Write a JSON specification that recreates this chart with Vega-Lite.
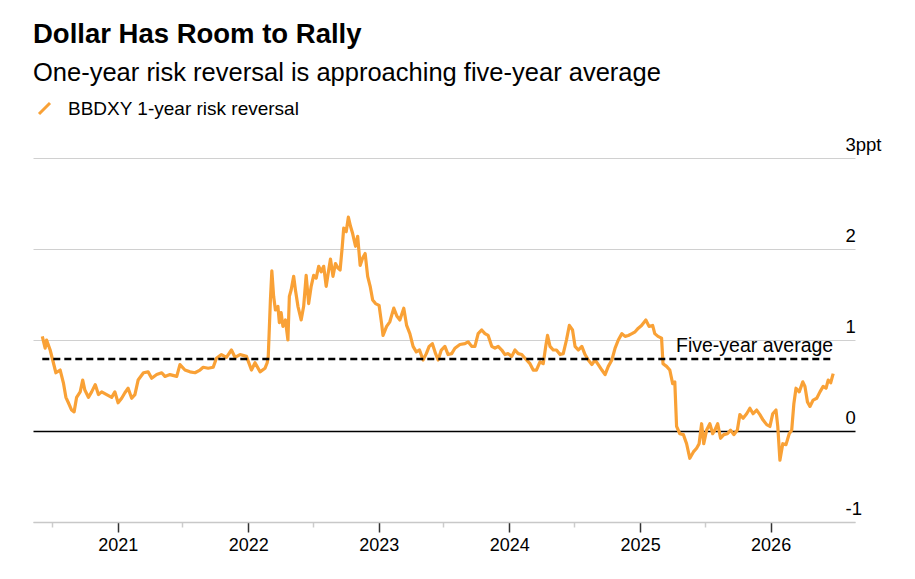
{
  "$schema": "https://vega.github.io/schema/vega-lite/v6.json",
  "width": 822,
  "height": 364,
  "autosize": {"type": "none"},
  "padding": {"left": 33, "top": 158, "right": 60, "bottom": 57},
  "background": "#ffffff",
  "title": {
    "text": "Dollar Has Room to Rally",
    "subtitle": "One-year risk reversal is approaching five-year average",
    "anchor": "start",
    "frame": "group",
    "font": "Liberation Sans",
    "fontSize": 27.5,
    "fontWeight": "bold",
    "color": "#000000",
    "subtitleFont": "Liberation Sans",
    "subtitleFontSize": 25.5,
    "subtitleColor": "#000000",
    "subtitlePadding": 12,
    "offset": 13
  },
  "datasets": {
    "series": [
      {"date": "2020-06-04", "value": 1.04}, {"date": "2020-06-12", "value": 0.91}, {"date": "2020-06-16", "value": 1.0},
      {"date": "2020-06-26", "value": 0.89}, {"date": "2020-07-05", "value": 0.75}, {"date": "2020-07-12", "value": 0.64},
      {"date": "2020-07-24", "value": 0.67}, {"date": "2020-08-02", "value": 0.53}, {"date": "2020-08-09", "value": 0.37},
      {"date": "2020-08-16", "value": 0.31}, {"date": "2020-08-25", "value": 0.23}, {"date": "2020-09-01", "value": 0.21},
      {"date": "2020-09-08", "value": 0.37}, {"date": "2020-09-18", "value": 0.43}, {"date": "2020-09-25", "value": 0.56},
      {"date": "2020-10-01", "value": 0.45}, {"date": "2020-10-11", "value": 0.37}, {"date": "2020-10-20", "value": 0.43},
      {"date": "2020-10-30", "value": 0.51}, {"date": "2020-11-08", "value": 0.4}, {"date": "2020-11-17", "value": 0.43},
      {"date": "2020-12-01", "value": 0.4}, {"date": "2020-12-15", "value": 0.37}, {"date": "2020-12-24", "value": 0.43},
      {"date": "2021-01-02", "value": 0.31}, {"date": "2021-01-12", "value": 0.36}, {"date": "2021-01-21", "value": 0.42},
      {"date": "2021-01-30", "value": 0.47}, {"date": "2021-02-09", "value": 0.36}, {"date": "2021-02-18", "value": 0.4},
      {"date": "2021-02-27", "value": 0.56}, {"date": "2021-03-14", "value": 0.64}, {"date": "2021-03-27", "value": 0.65},
      {"date": "2021-04-06", "value": 0.58}, {"date": "2021-04-20", "value": 0.62}, {"date": "2021-05-04", "value": 0.64},
      {"date": "2021-05-13", "value": 0.6}, {"date": "2021-05-27", "value": 0.62}, {"date": "2021-06-15", "value": 0.6},
      {"date": "2021-06-24", "value": 0.73}, {"date": "2021-07-08", "value": 0.67}, {"date": "2021-07-22", "value": 0.65},
      {"date": "2021-08-05", "value": 0.64}, {"date": "2021-08-19", "value": 0.67}, {"date": "2021-08-28", "value": 0.7},
      {"date": "2021-09-11", "value": 0.69}, {"date": "2021-09-25", "value": 0.7}, {"date": "2021-10-04", "value": 0.8},
      {"date": "2021-10-18", "value": 0.84}, {"date": "2021-11-01", "value": 0.81}, {"date": "2021-11-15", "value": 0.89},
      {"date": "2021-11-25", "value": 0.81}, {"date": "2021-12-09", "value": 0.84}, {"date": "2021-12-27", "value": 0.82},
      {"date": "2022-01-10", "value": 0.67}, {"date": "2022-01-20", "value": 0.75}, {"date": "2022-02-03", "value": 0.65},
      {"date": "2022-02-17", "value": 0.69}, {"date": "2022-02-23", "value": 0.75}, {"date": "2022-02-26", "value": 0.82},
      {"date": "2022-03-04", "value": 1.44}, {"date": "2022-03-08", "value": 1.76}, {"date": "2022-03-13", "value": 1.48},
      {"date": "2022-03-18", "value": 1.33}, {"date": "2022-03-25", "value": 1.37}, {"date": "2022-03-29", "value": 1.19},
      {"date": "2022-04-03", "value": 1.3}, {"date": "2022-04-08", "value": 1.15}, {"date": "2022-04-15", "value": 1.22},
      {"date": "2022-04-22", "value": 1.0}, {"date": "2022-04-26", "value": 1.48}, {"date": "2022-05-01", "value": 1.55},
      {"date": "2022-05-08", "value": 1.7}, {"date": "2022-05-13", "value": 1.55}, {"date": "2022-05-20", "value": 1.37},
      {"date": "2022-05-29", "value": 1.22}, {"date": "2022-06-05", "value": 1.37}, {"date": "2022-06-12", "value": 1.71},
      {"date": "2022-06-19", "value": 1.4}, {"date": "2022-06-26", "value": 1.59}, {"date": "2022-07-03", "value": 1.71},
      {"date": "2022-07-10", "value": 1.68}, {"date": "2022-07-17", "value": 1.81}, {"date": "2022-07-24", "value": 1.75},
      {"date": "2022-07-31", "value": 1.81}, {"date": "2022-08-07", "value": 1.59}, {"date": "2022-08-14", "value": 1.77},
      {"date": "2022-08-19", "value": 1.89}, {"date": "2022-08-26", "value": 1.7}, {"date": "2022-09-02", "value": 1.84},
      {"date": "2022-09-09", "value": 1.79}, {"date": "2022-09-15", "value": 1.77}, {"date": "2022-09-21", "value": 2.03},
      {"date": "2022-09-25", "value": 2.23}, {"date": "2022-10-02", "value": 2.19}, {"date": "2022-10-08", "value": 2.35},
      {"date": "2022-10-14", "value": 2.25}, {"date": "2022-10-20", "value": 2.17}, {"date": "2022-10-28", "value": 2.03},
      {"date": "2022-11-03", "value": 2.14}, {"date": "2022-11-10", "value": 1.82}, {"date": "2022-11-17", "value": 1.9},
      {"date": "2022-11-24", "value": 1.95}, {"date": "2022-12-01", "value": 1.7}, {"date": "2022-12-08", "value": 1.59},
      {"date": "2022-12-15", "value": 1.44}, {"date": "2022-12-23", "value": 1.4}, {"date": "2023-01-02", "value": 1.38},
      {"date": "2023-01-09", "value": 1.18}, {"date": "2023-01-13", "value": 1.05}, {"date": "2023-01-23", "value": 1.15},
      {"date": "2023-02-01", "value": 1.2}, {"date": "2023-02-12", "value": 1.35}, {"date": "2023-02-21", "value": 1.26},
      {"date": "2023-03-01", "value": 1.22}, {"date": "2023-03-12", "value": 1.35}, {"date": "2023-03-20", "value": 1.16},
      {"date": "2023-03-29", "value": 1.07}, {"date": "2023-04-07", "value": 0.93}, {"date": "2023-04-16", "value": 0.87},
      {"date": "2023-04-25", "value": 0.89}, {"date": "2023-05-05", "value": 0.78}, {"date": "2023-05-14", "value": 0.85},
      {"date": "2023-05-22", "value": 0.93}, {"date": "2023-05-31", "value": 0.96}, {"date": "2023-06-09", "value": 0.85},
      {"date": "2023-06-16", "value": 0.78}, {"date": "2023-06-25", "value": 0.89}, {"date": "2023-07-05", "value": 0.93},
      {"date": "2023-07-14", "value": 0.84}, {"date": "2023-07-24", "value": 0.85}, {"date": "2023-08-02", "value": 0.91},
      {"date": "2023-08-16", "value": 0.95}, {"date": "2023-08-30", "value": 0.96}, {"date": "2023-09-08", "value": 0.98},
      {"date": "2023-09-18", "value": 0.93}, {"date": "2023-09-27", "value": 0.93}, {"date": "2023-10-06", "value": 1.07},
      {"date": "2023-10-16", "value": 1.11}, {"date": "2023-10-25", "value": 1.07}, {"date": "2023-11-03", "value": 1.05},
      {"date": "2023-11-13", "value": 0.93}, {"date": "2023-11-22", "value": 0.91}, {"date": "2023-12-01", "value": 0.93},
      {"date": "2023-12-11", "value": 0.89}, {"date": "2023-12-20", "value": 0.84}, {"date": "2023-12-29", "value": 0.85},
      {"date": "2024-01-08", "value": 0.82}, {"date": "2024-01-17", "value": 0.89}, {"date": "2024-01-26", "value": 0.85},
      {"date": "2024-02-05", "value": 0.84}, {"date": "2024-02-14", "value": 0.8}, {"date": "2024-02-28", "value": 0.74},
      {"date": "2024-03-08", "value": 0.67}, {"date": "2024-03-17", "value": 0.67}, {"date": "2024-03-27", "value": 0.76},
      {"date": "2024-04-05", "value": 0.74}, {"date": "2024-04-12", "value": 0.93}, {"date": "2024-04-17", "value": 1.05},
      {"date": "2024-04-24", "value": 0.93}, {"date": "2024-05-03", "value": 0.89}, {"date": "2024-05-12", "value": 0.89},
      {"date": "2024-05-22", "value": 0.84}, {"date": "2024-05-31", "value": 0.85}, {"date": "2024-06-09", "value": 1.0},
      {"date": "2024-06-17", "value": 1.16}, {"date": "2024-06-26", "value": 1.11}, {"date": "2024-07-03", "value": 0.93},
      {"date": "2024-07-12", "value": 0.89}, {"date": "2024-07-22", "value": 0.93}, {"date": "2024-07-31", "value": 0.84},
      {"date": "2024-08-09", "value": 0.78}, {"date": "2024-08-19", "value": 0.73}, {"date": "2024-08-28", "value": 0.78},
      {"date": "2024-09-06", "value": 0.73}, {"date": "2024-09-16", "value": 0.67}, {"date": "2024-09-25", "value": 0.62},
      {"date": "2024-10-04", "value": 0.71}, {"date": "2024-10-14", "value": 0.78}, {"date": "2024-10-23", "value": 0.91},
      {"date": "2024-11-01", "value": 1.0}, {"date": "2024-11-11", "value": 1.07}, {"date": "2024-11-20", "value": 1.04},
      {"date": "2024-11-29", "value": 1.05}, {"date": "2024-12-09", "value": 1.07}, {"date": "2024-12-18", "value": 1.09},
      {"date": "2024-12-27", "value": 1.13}, {"date": "2025-01-05", "value": 1.16}, {"date": "2025-01-17", "value": 1.22},
      {"date": "2025-01-26", "value": 1.15}, {"date": "2025-02-05", "value": 1.16}, {"date": "2025-02-11", "value": 1.07},
      {"date": "2025-02-20", "value": 1.04}, {"date": "2025-03-02", "value": 1.02}, {"date": "2025-03-06", "value": 0.74},
      {"date": "2025-03-16", "value": 0.71}, {"date": "2025-03-25", "value": 0.67}, {"date": "2025-04-02", "value": 0.52},
      {"date": "2025-04-08", "value": 0.54}, {"date": "2025-04-13", "value": 0.05}, {"date": "2025-04-22", "value": -0.03},
      {"date": "2025-05-02", "value": -0.04}, {"date": "2025-05-11", "value": -0.14}, {"date": "2025-05-20", "value": -0.3},
      {"date": "2025-05-30", "value": -0.23}, {"date": "2025-06-08", "value": -0.19}, {"date": "2025-06-15", "value": -0.14},
      {"date": "2025-06-22", "value": 0.08}, {"date": "2025-06-28", "value": -0.14}, {"date": "2025-07-06", "value": 0.01},
      {"date": "2025-07-15", "value": 0.08}, {"date": "2025-07-23", "value": -0.03}, {"date": "2025-07-29", "value": 0.01},
      {"date": "2025-08-06", "value": 0.08}, {"date": "2025-08-14", "value": -0.08}, {"date": "2025-08-23", "value": -0.04},
      {"date": "2025-09-02", "value": -0.03}, {"date": "2025-09-11", "value": 0.01}, {"date": "2025-09-20", "value": -0.04},
      {"date": "2025-09-30", "value": 0.01}, {"date": "2025-10-07", "value": 0.18}, {"date": "2025-10-16", "value": 0.14},
      {"date": "2025-10-26", "value": 0.19}, {"date": "2025-11-04", "value": 0.25}, {"date": "2025-11-13", "value": 0.19},
      {"date": "2025-11-23", "value": 0.23}, {"date": "2025-12-02", "value": 0.18}, {"date": "2025-12-11", "value": 0.12},
      {"date": "2025-12-21", "value": 0.07}, {"date": "2025-12-30", "value": 0.05}, {"date": "2026-01-07", "value": 0.19},
      {"date": "2026-01-16", "value": 0.23}, {"date": "2026-01-21", "value": 0.05}, {"date": "2026-01-27", "value": -0.32},
      {"date": "2026-02-04", "value": -0.14}, {"date": "2026-02-13", "value": -0.15}, {"date": "2026-02-22", "value": -0.03},
      {"date": "2026-03-01", "value": 0.01}, {"date": "2026-03-07", "value": 0.3}, {"date": "2026-03-13", "value": 0.47},
      {"date": "2026-03-22", "value": 0.43}, {"date": "2026-04-01", "value": 0.54}, {"date": "2026-04-07", "value": 0.49},
      {"date": "2026-04-14", "value": 0.32}, {"date": "2026-04-21", "value": 0.27}, {"date": "2026-04-30", "value": 0.34},
      {"date": "2026-05-10", "value": 0.36}, {"date": "2026-05-19", "value": 0.43}, {"date": "2026-05-28", "value": 0.49},
      {"date": "2026-06-05", "value": 0.47}, {"date": "2026-06-11", "value": 0.56}, {"date": "2026-06-18", "value": 0.53},
      {"date": "2026-06-25", "value": 0.63}
    ],
    "average": [
      {"start": "2020-06-04", "end": "2026-06-25", "value": 0.79, "label": "Five-year average"}
    ]
  },
  "layer": [
    {
      "data": {"name": "series"},
      "mark": {"type": "line", "strokeWidth": 3.2, "strokeJoin": "round"},
      "encoding": {
        "x": {
          "field": "date",
          "type": "temporal",
          "scale": {
            "type": "utc",
            "domain": [
              {"year": 2020, "month": 5, "date": 9, "utc": true},
              {"year": 2026, "month": 8, "date": 25, "utc": true}
            ]
          },
          "axis": {
            "title": null,
            "grid": false,
            "values": [
              {"year": 2020, "month": 7, "date": 1, "utc": true},
              {"year": 2020, "month": 10, "date": 1, "utc": true},
              {"year": 2021, "month": 1, "date": 1, "utc": true},
              {"year": 2021, "month": 4, "date": 1, "utc": true},
              {"year": 2021, "month": 7, "date": 1, "utc": true},
              {"year": 2021, "month": 10, "date": 1, "utc": true},
              {"year": 2022, "month": 1, "date": 1, "utc": true},
              {"year": 2022, "month": 4, "date": 1, "utc": true},
              {"year": 2022, "month": 7, "date": 1, "utc": true},
              {"year": 2022, "month": 10, "date": 1, "utc": true},
              {"year": 2023, "month": 1, "date": 1, "utc": true},
              {"year": 2023, "month": 4, "date": 1, "utc": true},
              {"year": 2023, "month": 7, "date": 1, "utc": true},
              {"year": 2023, "month": 10, "date": 1, "utc": true},
              {"year": 2024, "month": 1, "date": 1, "utc": true},
              {"year": 2024, "month": 4, "date": 1, "utc": true},
              {"year": 2024, "month": 7, "date": 1, "utc": true},
              {"year": 2024, "month": 10, "date": 1, "utc": true},
              {"year": 2025, "month": 1, "date": 1, "utc": true},
              {"year": 2025, "month": 4, "date": 1, "utc": true},
              {"year": 2025, "month": 7, "date": 1, "utc": true},
              {"year": 2025, "month": 10, "date": 1, "utc": true},
              {"year": 2026, "month": 1, "date": 1, "utc": true},
              {"year": 2026, "month": 4, "date": 1, "utc": true}
            ],
            "labelExpr": "utcmonth(datum.value) == 0 ? utcFormat(datum.value, '%Y') : ''",
            "domainColor": "#c8c8c8",
            "domainWidth": 1.5,
            "tickWidth": 1.5,
            "tickColor": {"condition": {"test": "utcmonth(datum.value) == 0", "value": "#333333"}, "value": "#cccccc"},
            "tickSize": {"condition": {"test": "utcmonth(datum.value) == 0", "value": 10}, "value": 5},
            "labelFont": "Liberation Sans",
            "labelFontSize": 18,
            "labelColor": "#000000",
            "labelPadding": 4,
            "labelFlush": false,
            "labelOverlap": false
          }
        },
        "y": {
          "field": "value",
          "type": "quantitative",
          "scale": {"domain": [-1, 3], "nice": false},
          "axis": {
            "orient": "right",
            "title": null,
            "values": [-1, 0, 1, 2, 3],
            "domain": false,
            "ticks": false,
            "tickSize": 0,
            "grid": true,
            "gridColor": {"condition": {"test": "datum.value === 0", "value": "#000000"}, "value": "#d0d0d0"},
            "gridWidth": {"condition": {"test": "datum.value === 0", "value": 1.3}, "value": 1},
            "labelAlign": "left",
            "labelBaseline": "alphabetic",
            "labelPadding": -10,
            "labelOffset": -8,
            "labelFont": "Liberation Sans",
            "labelFontSize": 18.5,
            "labelColor": "#000000",
            "labelFlush": false,
            "labelOverlap": false,
            "labelExpr": "datum.value == 3 ? '3ppt' : '' + datum.value"
          }
        },
        "color": {
          "datum": "BBDXY 1-year risk reversal",
          "scale": {"range": ["#f9a136"]},
          "legend": {
            "orient": "none",
            "legendX": 2,
            "legendY": -59,
            "title": null,
            "padding": 0,
            "symbolType": "M-1,1L1,-1",
            "symbolSize": 121,
            "symbolStrokeWidth": 3,
            "labelFont": "Liberation Sans",
            "labelFontSize": 19,
            "labelColor": "#000000",
            "labelOffset": 14,
            "labelLimit": 0
          }
        }
      }
    },
    {
      "data": {"name": "average"},
      "mark": {"type": "rule", "color": "#000000", "strokeWidth": 2.5, "strokeDash": [7, 4]},
      "encoding": {
        "x": {"field": "start", "type": "temporal"},
        "x2": {"field": "end"},
        "y": {"field": "value", "type": "quantitative"}
      }
    },
    {
      "data": {"name": "average"},
      "mark": {"type": "text", "align": "right", "baseline": "alphabetic", "dy": -7, "font": "Liberation Sans", "fontSize": 19.5, "color": "#000000"},
      "encoding": {
        "x": {"field": "end", "type": "temporal"},
        "y": {"field": "value", "type": "quantitative"},
        "text": {"field": "label"}
      }
    }
  ],
  "config": {"view": {"stroke": null}}
}
